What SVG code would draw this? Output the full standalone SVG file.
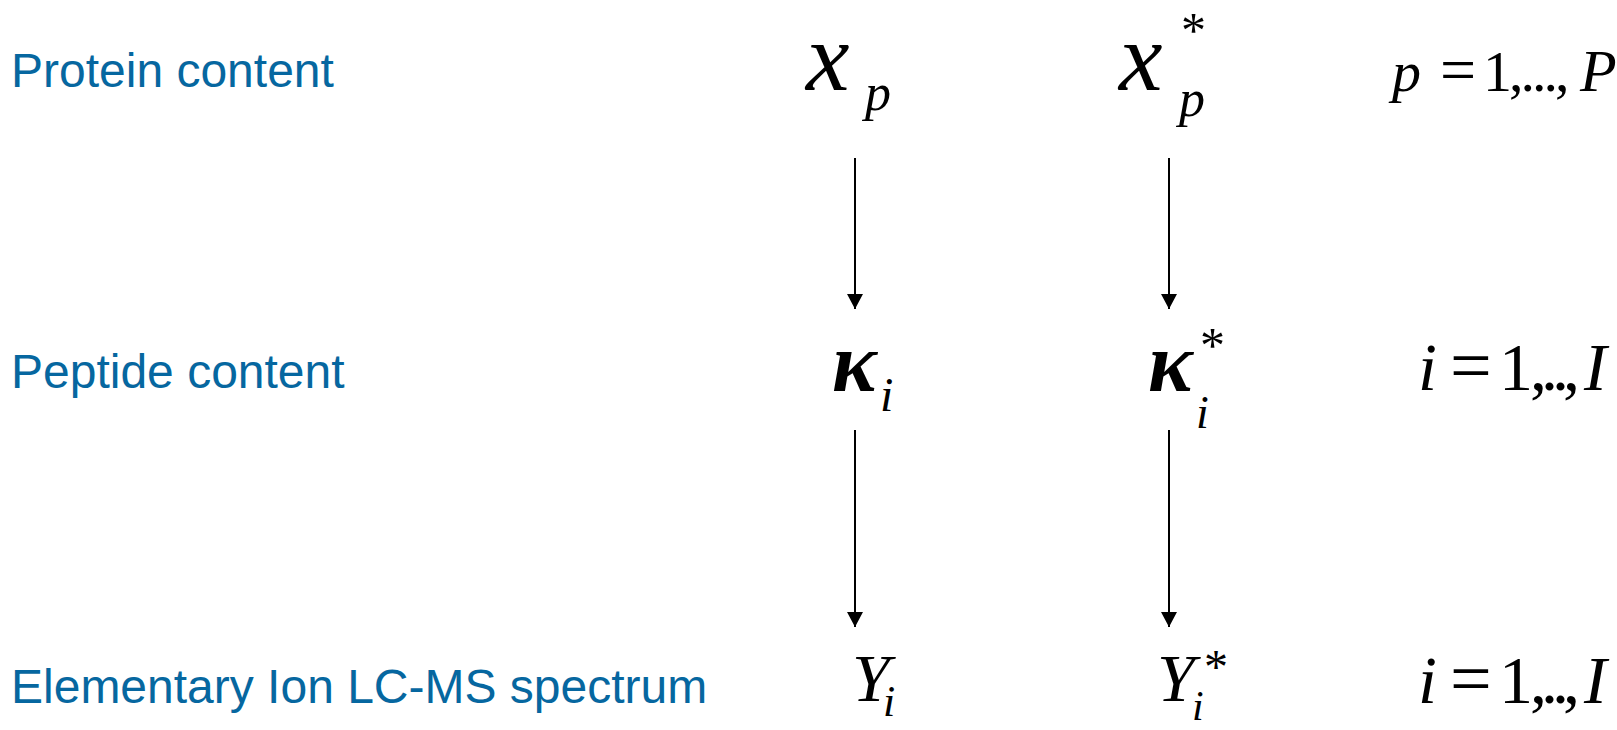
<svg xmlns="http://www.w3.org/2000/svg" width="1617" height="730" viewBox="0 0 1617 730">
<style>
.lbl{font-family:"Liberation Sans",Arial,sans-serif;font-size:48px;fill:#0667a0}
.m{font-family:"Liberation Serif","Times New Roman",serif;fill:#000}
.it{font-style:italic}
.up{font-style:normal}
.con{stroke:#000;stroke-width:2;fill:none;marker-end:url(#ah)}
</style>
<defs>
<marker id="ah" viewBox="0 0 15 16" refX="15" refY="8" markerWidth="15" markerHeight="16" markerUnits="userSpaceOnUse" orient="auto">
<path d="M0,0 L15,8 L0,16 z" fill="#000"/>
</marker>
</defs>
<rect width="1617" height="730" fill="#fff"/>
<g id="labels">
<text id="lbl-protein" class="lbl" x="11" y="87">Protein content</text>
<text id="lbl-peptide" class="lbl" x="11" y="388">Peptide content</text>
<text id="lbl-ion" class="lbl" x="11" y="703">Elementary Ion LC-MS spectrum</text>
</g>
<g id="node-xp">
<text class="m it"><tspan x="806" y="90" font-size="98">x</tspan><tspan x="865" y="110" font-size="52">p</tspan></text>
</g>
<g id="node-xp-star">
<text class="m it"><tspan x="1119" y="90" font-size="98">x</tspan><tspan class="up" x="1181" y="47" font-size="50">*</tspan><tspan x="1179" y="116" font-size="52">p</tspan></text>
</g>
<g id="range-p">
<text class="m" y="91" font-size="58"><tspan class="it" x="1392">p</tspan><tspan x="1440" font-size="64">=</tspan><tspan x="1483">1</tspan><tspan x="1509" letter-spacing="-3">,...,</tspan><tspan class="it" x="1580" font-size="60">P</tspan></text>
</g>
<g id="node-kappa">
<text class="m it" font-weight="bold"><tspan x="832" y="391" font-size="84">κ</tspan><tspan font-weight="normal" x="880" y="411" font-size="48">i</tspan></text>
</g>
<g id="node-kappa-star">
<text class="m it" font-weight="bold"><tspan x="1148" y="391" font-size="84">κ</tspan><tspan class="up" font-weight="normal" x="1200" y="362" font-size="50">*</tspan><tspan font-weight="normal" x="1196" y="428" font-size="46">i</tspan></text>
</g>
<g id="range-i-1">
<text class="m" y="390" font-size="68"><tspan class="it" x="1418">i</tspan><tspan x="1450" font-size="74">=</tspan><tspan x="1499">1</tspan><tspan x="1530" letter-spacing="-6">,..,</tspan><tspan class="it" x="1584">I</tspan></text>
</g>
<g id="node-Y">
<text class="m it"><tspan x="852" y="701" font-size="68">Y</tspan><tspan x="883" y="716" font-size="44">i</tspan></text>
</g>
<g id="node-Y-star">
<text class="m it"><tspan x="1157" y="701" font-size="68">Y</tspan><tspan class="up" x="1204" y="683" font-size="48">*</tspan><tspan x="1192" y="720" font-size="42">i</tspan></text>
</g>
<g id="range-i-2">
<text class="m" y="703" font-size="68"><tspan class="it" x="1418">i</tspan><tspan x="1450" font-size="74">=</tspan><tspan x="1499">1</tspan><tspan x="1530" letter-spacing="-6">,..,</tspan><tspan class="it" x="1584">I</tspan></text>
</g>
<g id="connectors">
<line class="con" x1="855" y1="158" x2="855" y2="309"/>
<line class="con" x1="1169" y1="158" x2="1169" y2="309"/>
<line class="con" x1="855" y1="430" x2="855" y2="627"/>
<line class="con" x1="1169" y1="430" x2="1169" y2="627"/>
</g>
</svg>
